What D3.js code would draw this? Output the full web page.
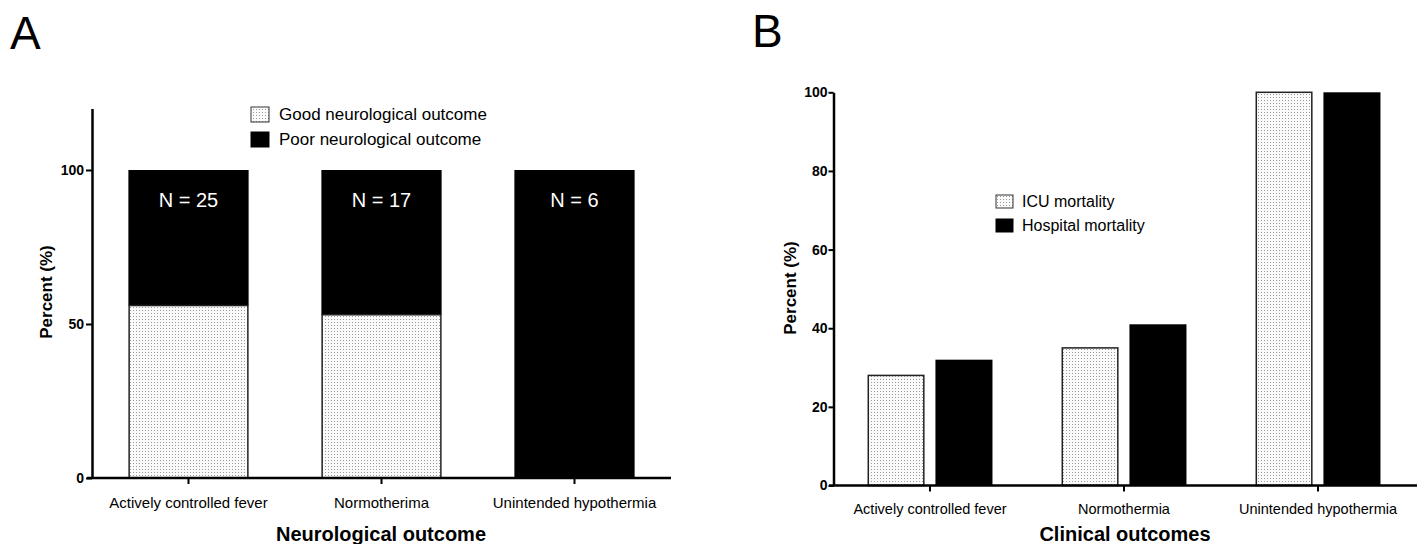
<!DOCTYPE html>
<html>
<head>
<meta charset="utf-8">
<script src="https://cdn.jsdelivr.net/npm/d3@7/dist/d3.min.js"></script>
<style>
  html, body { margin: 0; padding: 0; background: #fff; }
  svg { display: block; }
  text { font-family: "Liberation Sans", Arial, sans-serif; }
</style>
</head>
<body>
<svg id="chart" width="1417" height="544"></svg>
<script>
// ---------- Data ----------
const groupsA = ["Actively controlled fever", "Normotherima", "Unintended hypothermia"];
const goodA = [56, 53, 0];
const poorA = [44, 47, 100];
const nLabelsA = ["N = 25", "N = 17", "N = 6"];
const seriesA = ["Good neurological outcome", "Poor neurological outcome"];
const ticksA = [0, 50, 100];

const groupsB = ["Actively controlled fever", "Normothermia", "Unintended hypothermia"];
const seriesB = ["ICU mortality", "Hospital mortality"];
const icuB = [28, 35, 100];
const hospB = [32, 41, 100];
const ticksB = [0, 20, 40, 60, 80, 100];

// ---------- Setup ----------
const svg = d3.select("#chart");
const defs = svg.append("defs");
const pat = defs.append("pattern").attr("id", "dots")
  .attr("patternUnits", "userSpaceOnUse").attr("width", 3).attr("height", 3);
pat.append("rect").attr("width", 3).attr("height", 3).attr("fill", "#fafafa");
pat.append("rect").attr("x", 1).attr("y", 1).attr("width", 1).attr("height", 1).attr("fill", "#9a9a9a");

const fillFor = (s) => (s === 0 ? "url(#dots)" : "#000");

function styleAxis(g) {
  g.selectAll("path.domain").attr("stroke", "#000").attr("stroke-width", 2.5);
  g.selectAll(".tick line").attr("stroke", "#000").attr("stroke-width", 2);
}

// ---------- Panel A ----------
const xA = d3.scaleBand().domain(groupsA).range([92, 671]).paddingInner(0.377).paddingOuter(0.1885);
const yA = d3.scaleLinear().domain([0, 120]).range([478, 108.4]);

svg.append("text").attr("x", 10).attr("y", 48.5).attr("font-size", 46).text("A");

const gA = svg.append("g");
// stacked bars
groupsA.forEach((g, i) => {
  const x0 = xA(g), w = xA.bandwidth();
  // poor (black) on top of good
  if (poorA[i] > 0) {
    gA.append("rect").attr("x", x0).attr("width", w)
      .attr("y", yA(goodA[i] + poorA[i])).attr("height", yA(goodA[i]) - yA(goodA[i] + poorA[i]))
      .attr("fill", "#000");
  }
  if (goodA[i] > 0) {
    gA.append("rect").attr("x", x0 + 0.75).attr("width", w - 1.5)
      .attr("y", yA(goodA[i])).attr("height", yA(0) - yA(goodA[i]))
      .attr("fill", fillFor(0)).attr("stroke", "#222").attr("stroke-width", 1.5);
  }
  gA.append("text").attr("x", x0 + w / 2).attr("y", 206.5)
    .attr("text-anchor", "middle").attr("fill", "#fff").attr("font-size", 20)
    .text(nLabelsA[i]);
});

// y axis A
const yAxisA = svg.append("g").attr("transform", "translate(92,0)")
  .call(d3.axisLeft(yA).tickValues(ticksA).tickSize(6).tickSizeOuter(0).tickPadding(2));
styleAxis(yAxisA);
yAxisA.selectAll(".tick text").attr("font-size", 14).attr("font-weight", "bold").attr("fill", "#000")
  .attr("font-family", "Liberation Sans, Arial, sans-serif");

// x axis A
const xAxisA = svg.append("g").attr("transform", "translate(0,478)")
  .call(d3.axisBottom(xA).tickSize(6).tickSizeOuter(0).tickPadding(13));
xAxisA.select("path.domain").attr("d", "M87,0H671");
styleAxis(xAxisA);
xAxisA.selectAll(".tick text").attr("font-size", 15).attr("fill", "#000")
  .attr("font-family", "Liberation Sans, Arial, sans-serif");

svg.append("text").attr("x", 381).attr("y", 541).attr("text-anchor", "middle")
  .attr("font-size", 20).attr("font-weight", "bold").text("Neurological outcome");
svg.append("text").attr("transform", "translate(52,292) rotate(-90)").attr("text-anchor", "middle")
  .attr("font-size", 17).attr("font-weight", "bold").text("Percent (%)");

// legend A
seriesA.forEach((s, i) => {
  svg.append("rect").attr("x", 251).attr("y", 107 + i * 25).attr("width", 18).attr("height", 15)
    .attr("fill", fillFor(i)).attr("stroke", i === 0 ? "#333" : "#000").attr("stroke-width", 1);
  svg.append("text").attr("x", 279).attr("y", 120 + i * 25).attr("font-size", 17).text(s);
});

// ---------- Panel B ----------
const xB = d3.scaleBand().domain(groupsB).range([833, 1415]).paddingInner(0.356).paddingOuter(0.178);
const xBin = d3.scaleBand().domain(seriesB).range([0, xB.bandwidth()]).paddingInner(0.16);
const yB = d3.scaleLinear().domain([0, 100]).range([485.5, 92.3]);

svg.append("text").attr("x", 752).attr("y", 47).attr("font-size", 46).text("B");

const valsB = [icuB, hospB];
const gB = svg.append("g");
groupsB.forEach((g, i) => {
  seriesB.forEach((s, j) => {
    const v = valsB[j][i];
    const r = gB.append("rect")
      .attr("x", xB(g) + xBin(s) + (j === 0 ? 0.75 : 0))
      .attr("width", xBin.bandwidth() - (j === 0 ? 1.5 : 0))
      .attr("y", yB(v)).attr("height", yB(0) - yB(v))
      .attr("fill", fillFor(j));
    if (j === 0) r.attr("stroke", "#222").attr("stroke-width", 1.5);
  });
});

const yAxisB = svg.append("g").attr("transform", "translate(833.5,0)")
  .call(d3.axisLeft(yB).tickValues(ticksB).tickSize(5).tickSizeOuter(0).tickPadding(1));
styleAxis(yAxisB);
yAxisB.selectAll(".tick text").attr("font-size", 14).attr("font-weight", "bold").attr("fill", "#000")
  .attr("font-family", "Liberation Sans, Arial, sans-serif");

const xAxisB = svg.append("g").attr("transform", "translate(0,485.5)")
  .call(d3.axisBottom(xB).tickSize(6).tickSizeOuter(0).tickPadding(12));
xAxisB.select("path.domain").attr("d", "M829,0H1417");
styleAxis(xAxisB);
xAxisB.selectAll(".tick text").attr("font-size", 14.5).attr("fill", "#000")
  .attr("font-family", "Liberation Sans, Arial, sans-serif");

svg.append("text").attr("x", 1125).attr("y", 541).attr("text-anchor", "middle")
  .attr("font-size", 20).attr("font-weight", "bold").text("Clinical outcomes");
svg.append("text").attr("transform", "translate(796,288) rotate(-90)").attr("text-anchor", "middle")
  .attr("font-size", 17).attr("font-weight", "bold").text("Percent (%)");

seriesB.forEach((s, i) => {
  svg.append("rect").attr("x", 996).attr("y", 195 + i * 24).attr("width", 17).attr("height", 13)
    .attr("fill", fillFor(i)).attr("stroke", i === 0 ? "#333" : "#000").attr("stroke-width", 1);
  svg.append("text").attr("x", 1022).attr("y", 207 + i * 24).attr("font-size", 16).text(s);
});
</script>
</body>
</html>
